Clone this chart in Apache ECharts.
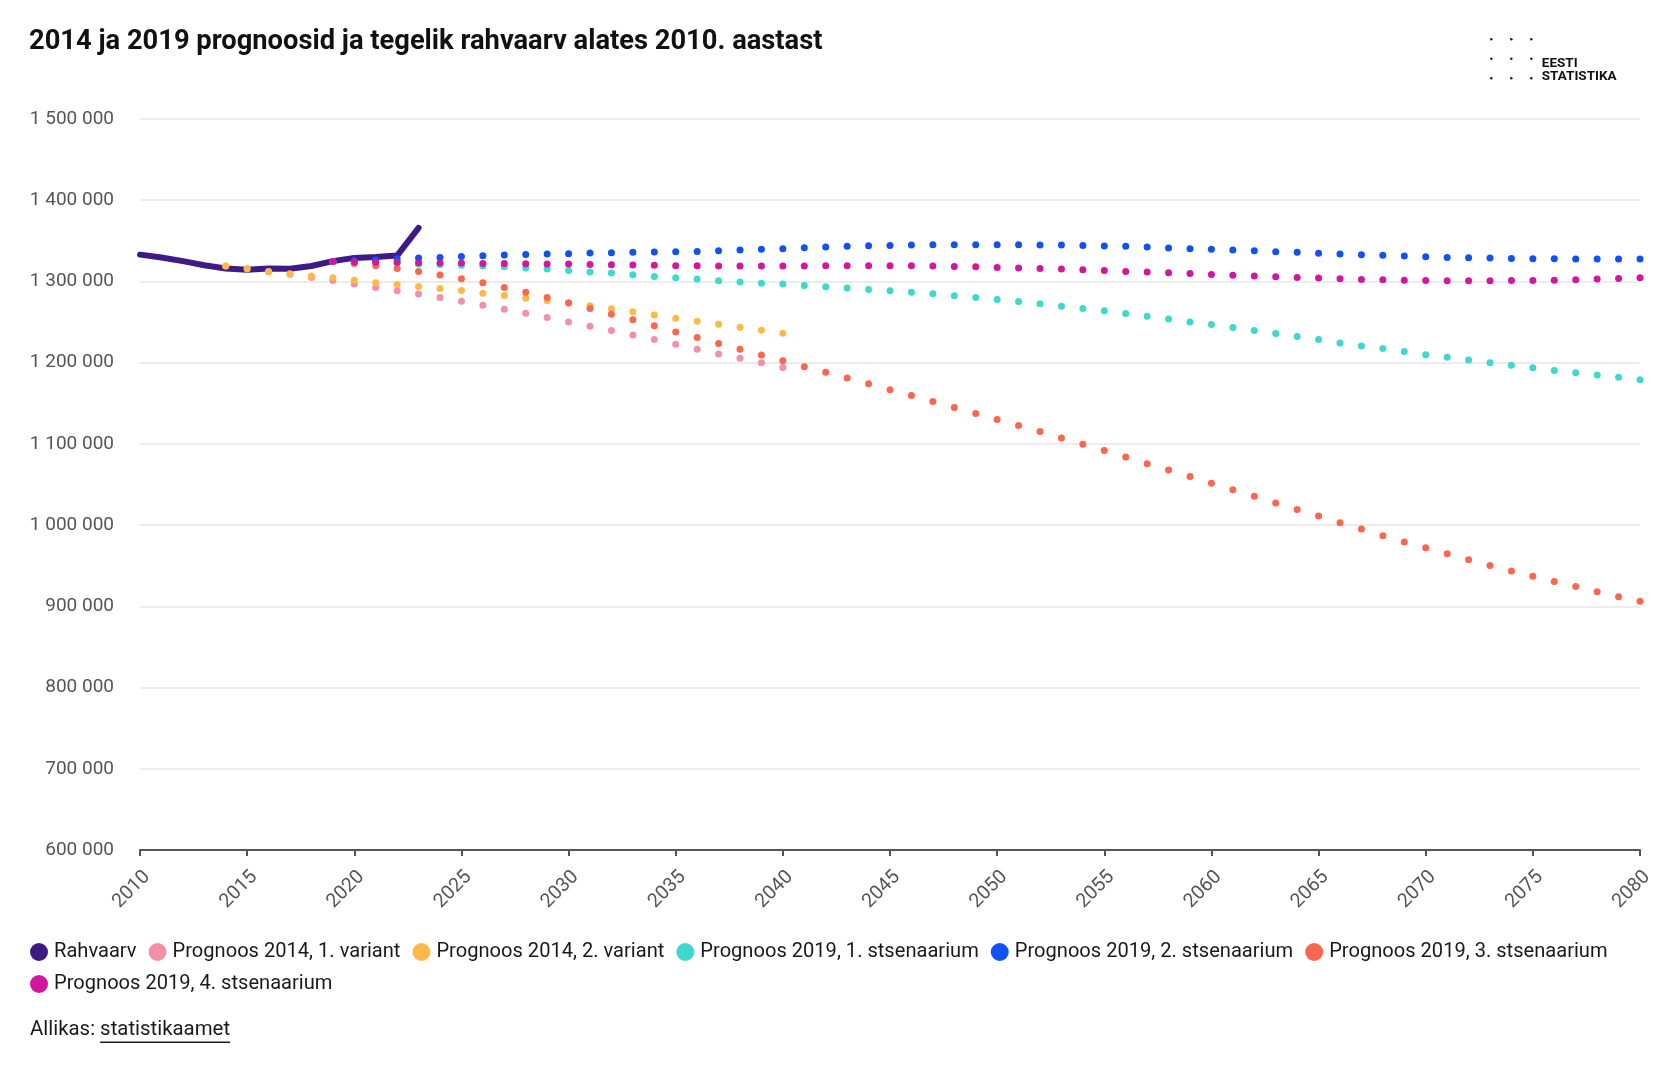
<!DOCTYPE html>
<html>
<head>
<meta charset="utf-8">
<script src="https://cdn.jsdelivr.net/npm/echarts@6/dist/echarts.min.js"></script>
<style>
html,body{margin:0;padding:0;background:#fff;}
#chart{width:1678px;height:1068px;}
</style>
</head>
<body>
<div id="chart"></div>
<script>
// ---- data ----
const titleText = '2014 ja 2019 prognoosid ja tegelik rahvaarv alates 2010. aastast';
const seriesNames = ['Rahvaarv','Prognoos 2014, 1. variant','Prognoos 2014, 2. variant','Prognoos 2019, 1. stsenaarium','Prognoos 2019, 2. stsenaarium','Prognoos 2019, 3. stsenaarium','Prognoos 2019, 4. stsenaarium'];
const seriesColors = ['#3d1a86','#f48faa','#ffb946','#3dd9cb','#1150f2','#fb6650','#d2169d'];
const sourceLabel = 'Allikas: ';
const sourceName = 'statistikaamet';
const logoLines = ['EESTI','STATISTIKA'];

const rahvaarvStart = 2010;
const rahvaarv = [1333000,1329500,1325000,1320000,1316000,1314500,1316000,1315700,1319000,1325000,1329000,1330000,1331800,1365900];

const prog2014Start = 2014;
const prog2014v1 = [1318900,1315600,1312000,1308800,1304900,1301200,1296700,1292600,1288500,1284400,1280200,1275500,1270800,1265800,1260900,1255600,1250200,1244900,1239500,1234200,1228400,1222600,1216500,1210700,1205300,1200000,1194000];
const prog2014v2 = [1318900,1315600,1312300,1309500,1306600,1304500,1301600,1298400,1296300,1293800,1291400,1288900,1285600,1282700,1279400,1276100,1273300,1270000,1266300,1262600,1258800,1254700,1251000,1247300,1243600,1239900,1236200];

const prog2019Start = 2019;
const prog2019s1 = [1324700,1323800,1323200,1322500,1321600,1320800,1319800,1318900,1318100,1316500,1315200,1313600,1311500,1310300,1308200,1306200,1304500,1302900,1300800,1299200,1297900,1296700,1295100,1293400,1291800,1290100,1288500,1286800,1284800,1282300,1280200,1277800,1275300,1272400,1269500,1266700,1263800,1260500,1257200,1253900,1250200,1246900,1243200,1239500,1235800,1232100,1228400,1224300,1220600,1217300,1213600,1209900,1206600,1203300,1200000,1196700,1193800,1190500,1187700,1184800,1181900,1179000];
const prog2019s2 = [1324700,1325900,1326700,1328000,1328800,1329600,1330700,1331700,1332500,1333300,1333700,1334200,1335000,1335400,1335800,1336200,1336600,1337000,1337900,1338700,1339500,1340300,1341600,1342400,1343200,1344000,1344400,1344900,1345300,1345300,1345300,1345300,1345300,1344900,1344900,1344400,1343600,1343200,1342400,1341200,1340300,1339500,1338700,1337900,1336600,1335800,1334600,1333700,1332900,1332100,1331300,1330500,1329600,1329200,1328800,1328400,1328000,1328000,1327600,1327600,1327600,1327600];
const prog2019s3 = [1324700,1322200,1319300,1316000,1312300,1307800,1303300,1298400,1292600,1286800,1280200,1273700,1266700,1259700,1252700,1245300,1237900,1230900,1223500,1216500,1209500,1202300,1195100,1188100,1181100,1174100,1166700,1159700,1152300,1144900,1137400,1130000,1122600,1115200,1107400,1099600,1091800,1084000,1075700,1067900,1059700,1051600,1043600,1035400,1027200,1019300,1011100,1002900,995100,986800,979300,972000,964600,957200,950200,943600,937000,930500,924300,918100,911900,906200];
const prog2019s4 = [1324700,1323900,1323500,1323500,1323000,1322600,1322600,1322200,1322200,1321800,1321400,1321400,1321000,1320600,1320200,1319800,1319300,1319300,1318900,1318900,1318900,1318900,1319100,1319300,1319300,1319300,1319300,1319300,1318900,1318500,1318100,1317300,1316500,1316000,1315200,1314400,1313600,1312300,1311500,1310700,1309900,1308600,1307600,1306600,1305800,1304900,1304100,1303300,1302500,1302100,1301600,1301200,1300800,1300800,1300800,1301200,1301200,1301600,1302100,1302900,1303700,1304500];

const xMin = 2010, xMax = 2080, xStep = 5;
const yMin = 600000, yMax = 1500000, yStep = 100000;

// ---- build ----
function pairs(start, arr){ return arr.map((v,i)=>[start+i, v]); }
function fmt(v){ return String(v).replace(/\B(?=(\d{3})+(?!\d))/g, ' '); }

const FONT = 'Roboto, "Noto Sans", sans-serif';
const SRC_SIZE = 20.4;
const measureCtx = document.createElement('canvas').getContext('2d');
measureCtx.font = SRC_SIZE + 'px Roboto';
const labelW = measureCtx.measureText(sourceLabel).width;
const nameW = measureCtx.measureText(sourceName).width;

const chart = echarts.init(document.getElementById('chart'), null, {renderer:'canvas'});

function scatter(idx, start, arr){
  return {
    name: seriesNames[idx], type:'scatter', data: pairs(start, arr),
    symbol:'circle', symbolSize:7,
    itemStyle:{color: seriesColors[idx], opacity:1},
    emphasis:{disabled:true}, z: 2 + idx
  };
}

const logoDots = [];
for (let r = 0; r < 3; r++) for (let c = 0; c < 3; c++) {
  logoDots.push({type:'circle', shape:{cx:1.5 + c*20, cy:1.5 + r*19.5, r:1.3}, style:{fill:'#222'}});
}

chart.setOption({
  animation:false,
  backgroundColor:'#ffffff',
  color: seriesColors,
  title:{
    text: titleText, left: 24, top: 24,
    textStyle:{fontFamily:FONT, fontWeight:'bold', fontSize:27.3, color:'#111'}
  },
  grid:{left:140, right:38, top:119, bottom:218, containLabel:false},
  legend:{
    left: 30, top: 942, width: 1615, padding: 0,
    itemWidth: 18, itemHeight: 18, itemGap: 12,
    icon: 'circle',
    textStyle:{fontFamily:FONT, fontSize:20.1, color:'#1a1a1a', lineHeight:17, padding:[0,0,0,1]},
    data: seriesNames
  },
  xAxis:{
    type:'value', min:xMin, max:xMax, interval:xStep,
    axisLine:{show:true, lineStyle:{color:'#555', width:2}},
    axisTick:{show:true, length:6, lineStyle:{color:'#555', width:2}},
    splitLine:{show:false},
    axisLabel:{rotate:45, verticalAlign:'top', fontFamily:FONT, fontSize:19.5, color:'#555', margin:17, formatter:v=>String(v)}
  },
  yAxis:{
    type:'value', min:yMin, max:yMax, interval:yStep,
    axisLine:{show:false}, axisTick:{show:false},
    splitLine:{show:true, lineStyle:{color:'#e6e6e6', width:1.5}},
    axisLabel:{fontFamily:FONT, fontSize:19, color:'#555', margin:26, formatter:v=>fmt(v)}
  },
  series:[
    {
      name: seriesNames[0], type:'line', data: pairs(rahvaarvStart, rahvaarv),
      showSymbol:false, symbol:'circle', smooth:false,
      lineStyle:{color:seriesColors[0], width:6, cap:'round', join:'round'},
      itemStyle:{color:seriesColors[0]}, z:1
    },
    scatter(1, prog2014Start, prog2014v1),
    scatter(2, prog2014Start, prog2014v2),
    scatter(3, prog2019Start, prog2019s1),
    scatter(4, prog2019Start, prog2019s2),
    scatter(5, prog2019Start, prog2019s3),
    scatter(6, prog2019Start, prog2019s4)
  ],
  graphic:[
    {type:'text', left:30, top:1020, style:{text:sourceLabel + sourceName, fontFamily:FONT, fontSize:SRC_SIZE, fill:'#1a1a1a'}},
    {type:'rect', left:30 + labelW, top:1041.5, shape:{width:nameW, height:1.4}, style:{fill:'#1a1a1a'}},
    // logo
    {type:'group', left:1490, top:38, children: logoDots.concat([
      {type:'text', x:52, y:19, style:{text:logoLines[0], fontFamily:FONT, fontWeight:'bold', fontSize:13.5, fill:'#111'}},
      {type:'text', x:52, y:32, style:{text:logoLines[1], fontFamily:FONT, fontWeight:'bold', fontSize:13.5, fill:'#111'}}
    ])}
  ]
});
</script>
</body>
</html>
